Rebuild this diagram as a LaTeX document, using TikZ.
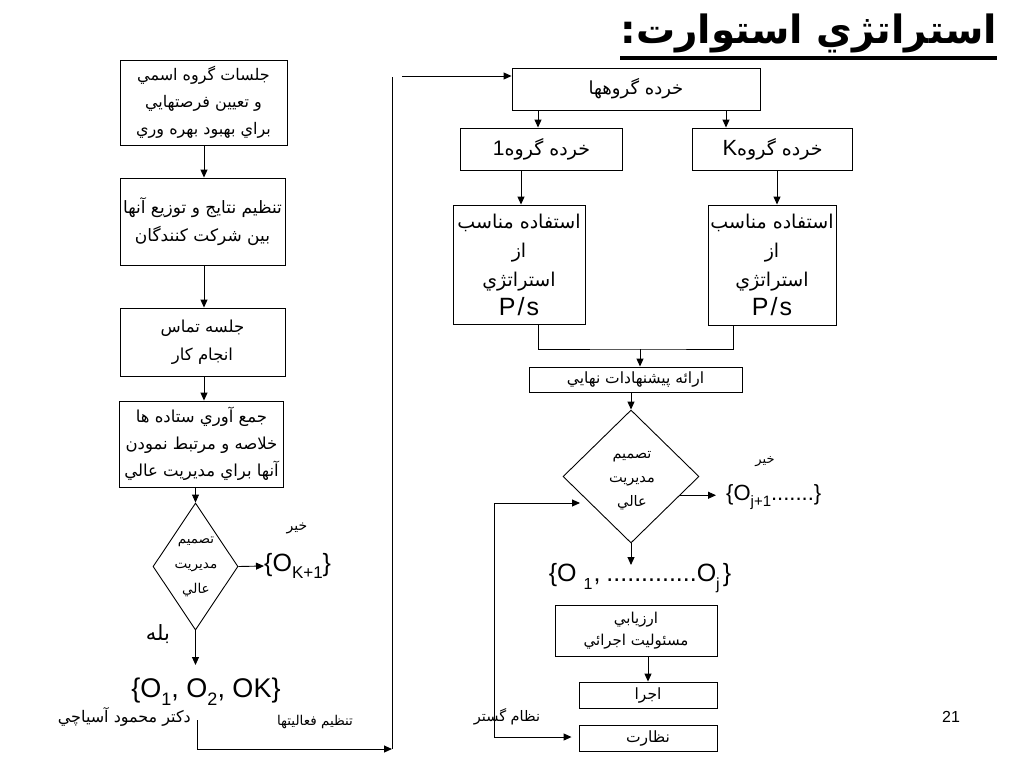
\documentclass[tikz,border=0pt]{standalone}
\usepackage{fontspec}
\usetikzlibrary{shapes.geometric,arrows.meta,calc}
\TeXXeTstate=1
\newfontfamily\arf[Script=Arabic]{DejaVu Sans}
\newfontfamily\lat{Liberation Sans}
\newcommand\arl[1]{\beginR #1\endR}
\newcommand\sbs[2]{\raisebox{-0.3em}{\fontsize{#1}{#1}\selectfont #2}}
\tikzset{
  box/.style={draw, line width=0.9pt, inner sep=0pt, align=center, font=\arf\fontsize{16}{27}\selectfont},
  dia/.style={draw, line width=0.9pt, diamond, inner sep=0pt},
  arr/.style={line width=0.9pt, -{Triangle[length=8pt,width=7pt]}},
  ln/.style={line width=0.9pt},
  lbl/.style={inner sep=0pt, font=\arf\fontsize{14}{16}\selectfont, align=center},
  set/.style={inner sep=0pt, font=\lat\fontsize{22}{24}\selectfont}
}
\begin{document}
\begin{tikzpicture}[x=1pt,y=-1pt]
\path[fill=white] (0,0) rectangle (1024,768);
\useasboundingbox (0,0) rectangle (1024,768);
% title
\node[inner sep=0pt, anchor=east, font=\arf\bfseries\fontsize{39}{40}\selectfont] (title) at (997,33) {\arl{استراتژي استوارت:}};
\draw[line width=4.5pt] (title.west |- 0,58) -- (title.east |- 0,58);
% left column
\node[box, minimum width=167pt, minimum height=85pt] (b1) at (203.5,102.5) {\arl{جلسات گروه اسمي}\\ \arl{و تعيين فرصتهايي}\\ \arl{براي بهبود بهره وري}};
\node[box, minimum width=165pt, minimum height=87pt, font=\arf\fontsize{17}{28}\selectfont] (b2) at (202.5,221.5) {\arl{تنظيم نتايج و توزيع آنها}\\ \arl{بين شركت كنندگان}};
\node[box, minimum width=165pt, minimum height=68pt, font=\arf\fontsize{16.5}{28}\selectfont] (b3) at (202.5,342) {\arl{جلسه تماس}\\ \arl{انجام كار}};
\node[box, minimum width=164pt, minimum height=86pt, font=\arf\fontsize{16.5}{27}\selectfont] (b4) at (201.5,444) {\arl{جمع آوري ستاده ها}\\ \arl{خلاصه و مرتبط نمودن}\\ \arl{آنها براي مديريت عالي}};
\node[dia, minimum width=85pt, minimum height=127pt] (d1) at (195.5,566.5) {};
\node[lbl, font=\arf\fontsize{13.5}{25}\selectfont] (d1t) at (196,567) {\arl{تصميم}\\ \arl{مديريت}\\ \arl{عالي}};
\node[set, anchor=west, font=\lat\fontsize{25}{26}\selectfont] (ok1) at (264,566) {\{O\sbs{17}{K+1}\}};
\node[lbl] (no1) at (297,528) {\arl{خير}};
\node[lbl, font=\arf\fontsize{21}{22}\selectfont] (yes1) at (158,634) {\arl{بله}};
\node[set, font=\lat\fontsize{27}{28}\selectfont] (o12) at (206,692) {\{O\sbs{18}{1}, O\sbs{18}{2}, OK\}};
\node[lbl, anchor=east, font=\arf\fontsize{16}{18}\selectfont] (dr) at (191,717) {\arl{دكتر محمود آسياچي}};
\node[lbl, font=\arf\fontsize{13.5}{15}\selectfont] (tf) at (315,722) {\arl{تنظيم فعاليتها}};
\coordinate (c1) at (197,720);
\coordinate (c2) at (392,749);
\coordinate (c3) at (392,77);
\coordinate (c4) at (402,76);
\draw[arr] (b1.south -| 204,0) -- (b2.north -| 204,0);
\draw[arr] (b2.south -| 204,0) -- (b3.north -| 204,0);
\draw[arr] (b3.south -| 204,0) -- (b4.north -| 204,0);
\draw[arr] (b4.south -| d1.north) -- (d1.north);
\draw[arr] (d1.east) -- (ok1.west);
\draw[arr] (d1.south) -- (d1.south |- 0,665);
\draw[arr] (c1) |- (c2);
\draw[ln] (c2) -- (c3);
% right column
\node[box, minimum width=248pt, minimum height=42pt, font=\arf\fontsize{18}{20}\selectfont] (g) at (636,89) {\arl{خرده گروهها}};
\draw[arr] (c4) -- (g.west |- c4);
\node[box, minimum width=162pt, minimum height=42pt, font=\arf\fontsize{19}{20}\selectfont] (g1) at (541.5,149) {\arl{خرده گروه\beginL{\lat\fontsize{21}{22}\selectfont 1}\endL}};
\node[box, minimum width=160pt, minimum height=42pt, font=\arf\fontsize{19}{20}\selectfont] (gk) at (772.5,149) {\arl{خرده گروه\beginL{\lat\fontsize{22}{22}\selectfont K}\endL}};
\node[box, minimum width=132pt, minimum height=119pt, font=\arf\fontsize{19}{29}\selectfont] (s1) at (519,264.5) {\arl{استفاده مناسب}\\ \arl{از}\\ \arl{استراتژي}\\ {\lat\fontsize{25}{26}\selectfont P\hspace{2pt}/\hspace{2pt}s}};
\node[box, minimum width=128pt, minimum height=120pt, font=\arf\fontsize{19}{29}\selectfont] (sk) at (772,265) {\arl{استفاده مناسب}\\ \arl{از}\\ \arl{استراتژي}\\ {\lat\fontsize{25}{26}\selectfont P\hspace{2pt}/\hspace{2pt}s}};
\node[box, minimum width=213pt, minimum height=25pt, font=\arf\fontsize{15.5}{17}\selectfont] (p) at (635.5,379.5) {\arl{ارائه پيشنهادات نهايي}};
\node[dia, minimum width=136pt, minimum height=133pt] (d2) at (631,476.5) {};
\node[lbl, font=\arf\fontsize{14.5}{24}\selectfont] (d2t) at (632,481) {\arl{تصميم}\\ \arl{مديريت}\\ \arl{عالي}};
\node[set, font=\lat\fontsize{22}{24}\selectfont, anchor=west] (oj1) at (726,497) {\{O\sbs{15}{j+1}.......\}};
\node[lbl, font=\arf\fontsize{13}{14}\selectfont] (no2) at (765,462) {\arl{خير}};
\node[set, font=\lat\fontsize{25}{26}\selectfont] (o1j) at (640,578) {\{O\hspace{7pt}\sbs{16}{1}\hspace{1pt},\hspace{6pt}.............O\sbs{16}{j}\hspace{3pt}\}};
\node[box, minimum width=162pt, minimum height=51pt, font=\arf\fontsize{15}{22}\selectfont] (e) at (636,630.5) {\arl{ارزيابي}\\ \arl{مسئوليت اجرائي}};
\node[box, minimum width=138pt, minimum height=26pt, font=\arf\fontsize{15.5}{17}\selectfont] (j) at (648,695) {\arl{اجرا}};
\node[box, minimum width=138pt, minimum height=26pt, font=\arf\fontsize{15.5}{17}\selectfont] (n) at (648,738) {\arl{نظارت}};
\node[lbl, font=\arf\fontsize{14.5}{16}\selectfont] (ng) at (507,717) {\arl{نظام گستر}};
\node[inner sep=0pt, font=\lat\fontsize{16}{18}\selectfont] (pg) at (951,717) {21};
\draw[arr] ([xshift=-98pt]g.south) -- ([xshift=-98pt]g.south |- g1.north);
\draw[arr] ([xshift=90pt]g.south) -- ([xshift=90pt]g.south |- gk.north);
\draw[arr] (g1.south -| 521,0) -- (s1.north -| 521,0);
\draw[arr] (gk.south -| 777,0) -- (sk.north -| 777,0);
\coordinate (m) at (640,349);
\draw[ln] (s1.south -| 538,0) |- (m) -| (sk.south -| 733,0);
\draw[arr] (m) -- (m |- p.north);
\draw[arr] (p.south -| d2.north) -- (d2.north);
\coordinate (d2r) at ($(d2.east)!0.28!(d2.south)$);
\draw[arr] (d2r) -- (d2r -| 716,0);
\draw[arr] (d2.south) -- (d2.south |- 0,565);
\draw[arr] (e.south -| j.north) -- (j.north);
\coordinate (fa) at (494,503);
\coordinate (fb) at (494,737);
\draw[arr] (fa) -- (580,503);
\draw[arr] (fa) -- (fb) -- ([xshift=-7pt]n.west |- fb);
\end{tikzpicture}
\end{document}
